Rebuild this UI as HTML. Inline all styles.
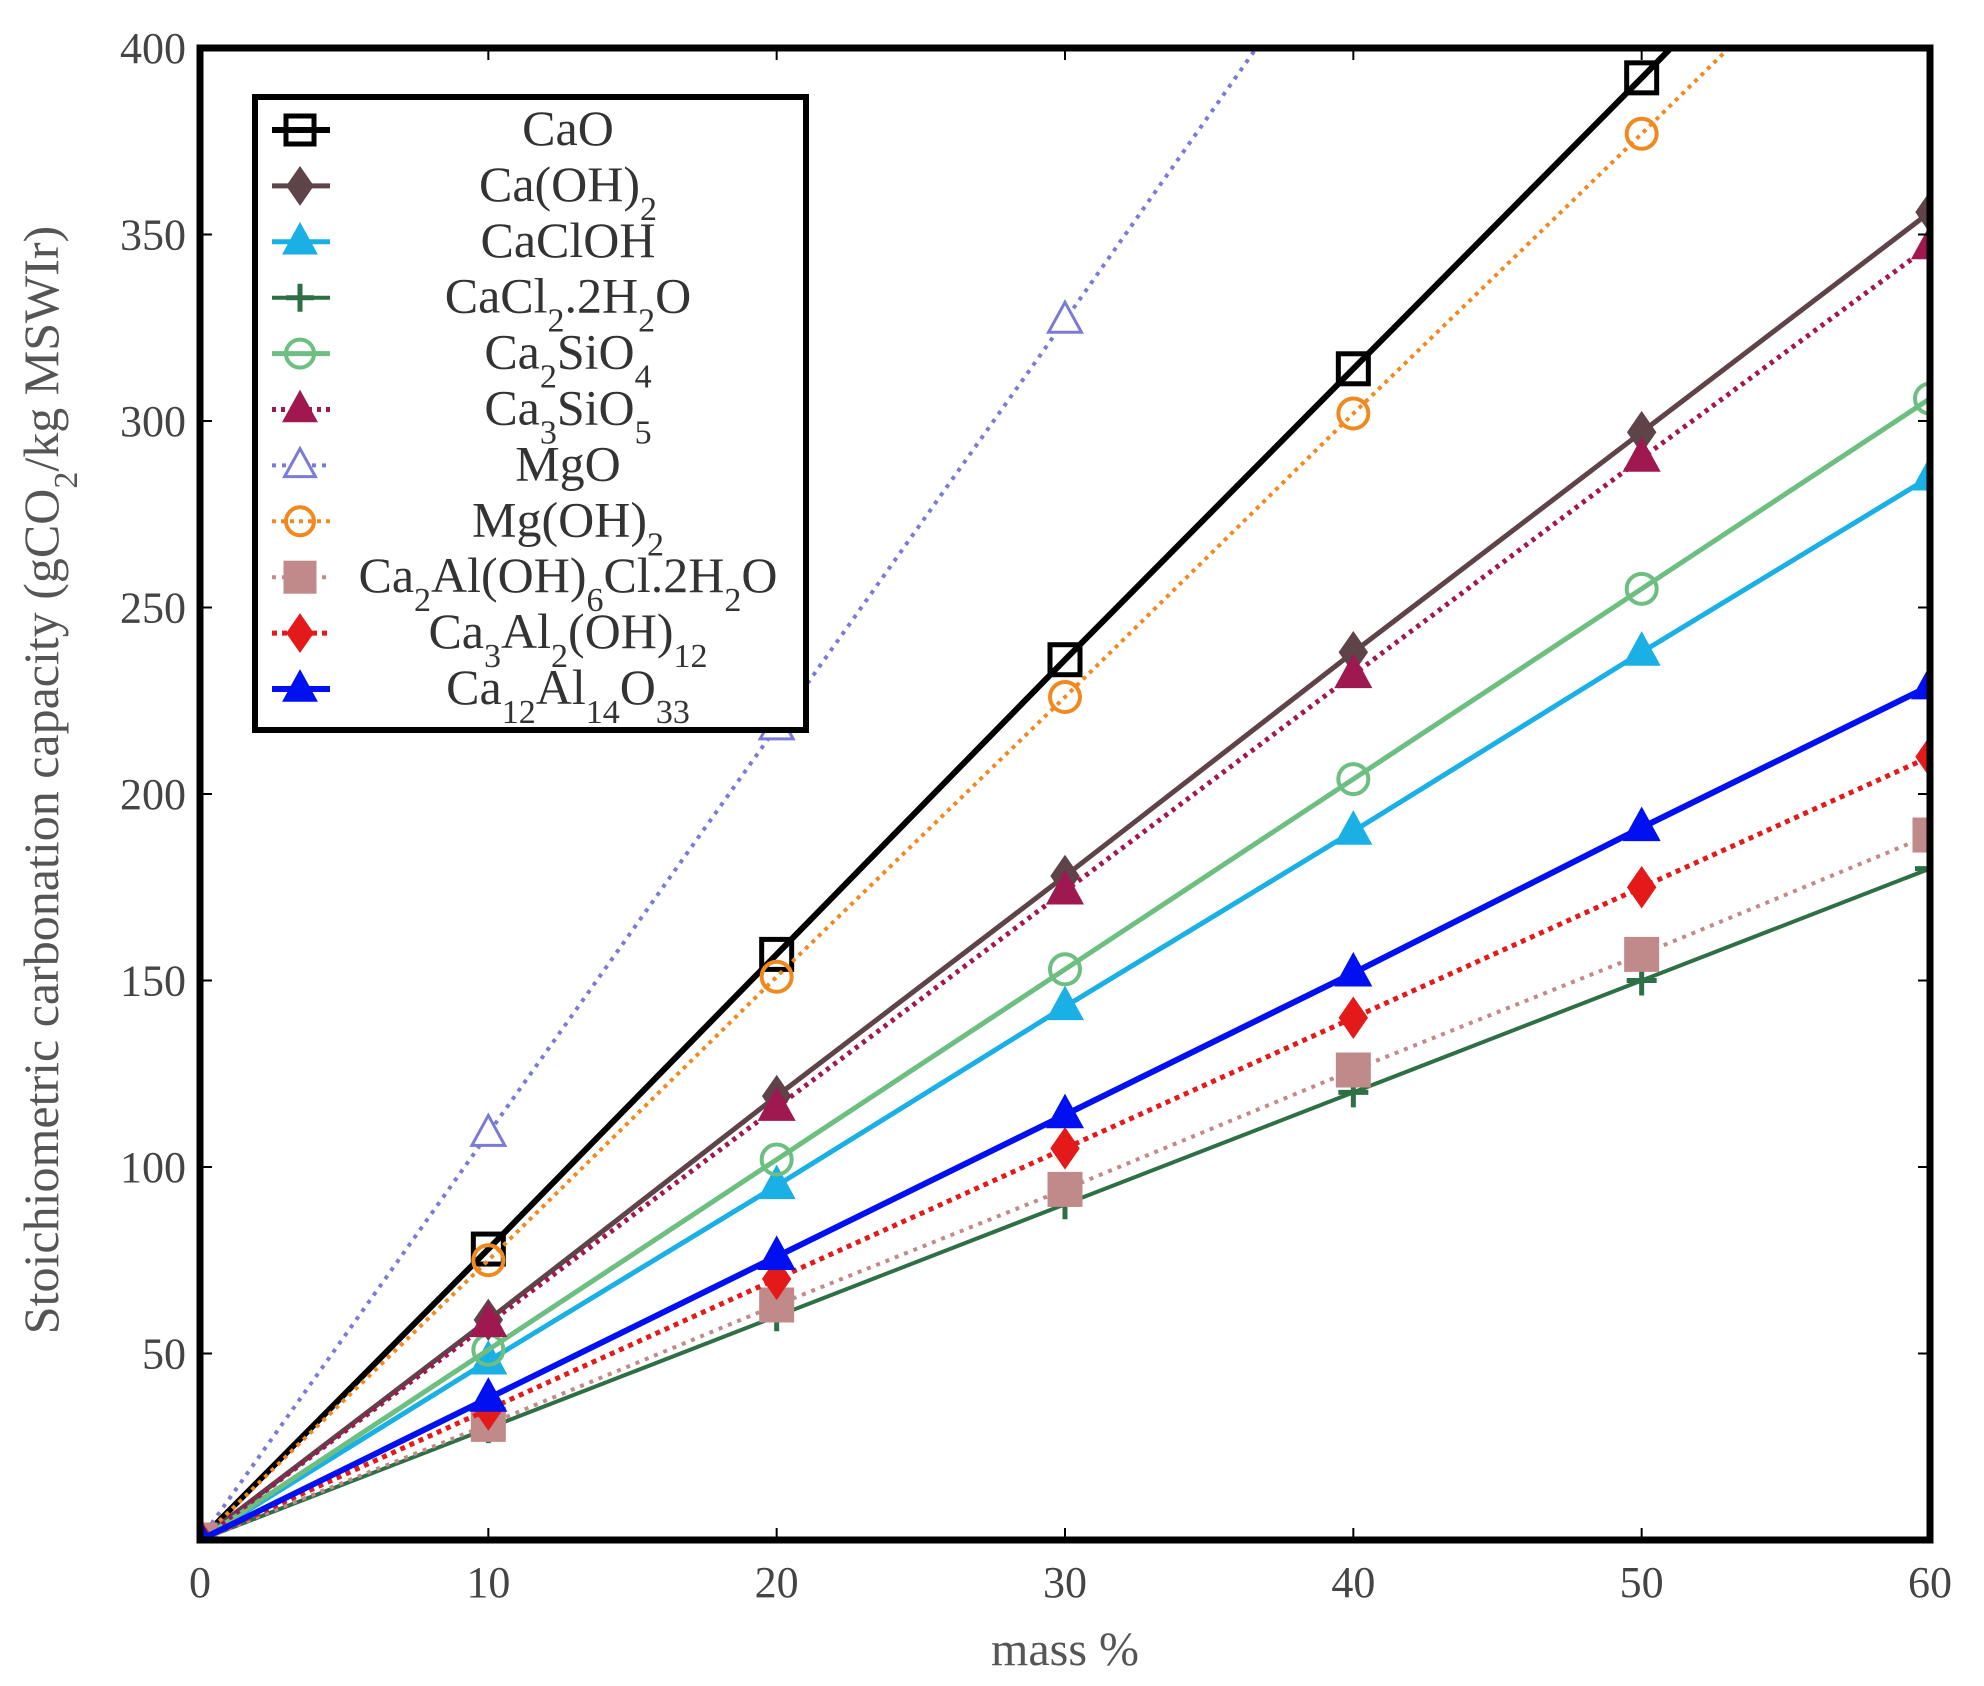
<!DOCTYPE html>
<html><head><meta charset="utf-8">
<style>
html,body{margin:0;padding:0;background:#fff;}
svg{display:block;}
text{font-family:"Liberation Serif",serif;}
</style></head>
<body>
<svg id="chart" width="1984" height="1686" viewBox="0 0 1984 1686" xmlns="http://www.w3.org/2000/svg">
<defs><clipPath id="plotclip"><rect x="200" y="48" width="1730" height="1492"/></clipPath></defs>
<rect x="0" y="0" width="1984" height="1686" fill="#fff"/>
<g id="series" clip-path="url(#plotclip)"></g>
<g id="axes"></g>
<g id="legend"></g>
</svg>
<script>
const xValues = [0, 10, 20, 30, 40, 50, 60];
const xTicks = [0, 10, 20, 30, 40, 50, 60];
const yTicks = [50, 100, 150, 200, 250, 300, 350, 400];
const seriesNames = ["CaO","Ca(OH)2","CaClOH","CaCl2.2H2O","Ca2SiO4","Ca3SiO5","MgO","Mg(OH)2","Ca2Al(OH)6Cl.2H2O","Ca3Al2(OH)12","Ca12Al14O33"];
const valsCaO = [0, 78, 157, 236, 314, 392, 471];
const valsCaOH2 = [0, 59, 119, 178, 238, 297, 356];
const valsCaClOH = [0, 48, 95, 143, 190, 238, 285];
const valsCaCl2 = [0, 30, 60, 90, 120, 150, 180];
const valsCa2SiO4 = [0, 51, 102, 153, 204, 255, 306];
const valsCa3SiO5 = [0, 58, 116, 174, 232, 290, 347];
const valsMgO = [0, 109, 218, 327, 437, 546, 655];
const valsMgOH2 = [0, 75, 151, 226, 302, 377, 453];
const valsCa2Al = [0, 31, 63, 94, 126, 157, 189];
const valsCa3Al2 = [0, 35, 70, 105, 140, 175, 210];
const valsCa12Al = [0, 38, 76, 114, 152, 191, 229];

const X0=200, X1=1930, Y0=1540, Y1=48;
function xs(v){return X0+(v-0)/(60-0)*(X1-X0);}
function ys(v){return Y0-(v-0)/(400-0)*(Y0-Y1);}
const NS="http://www.w3.org/2000/svg";
function mk(tag, attrs, parent){const e=document.createElementNS(NS,tag);for(const k in attrs)e.setAttribute(k,attrs[k]);parent.appendChild(e);return e;}

const styles=[
 {v:valsCaO,c:"#000",w:6,d:"",m:"square",f:false,slug:"cao"},
 {v:valsCaOH2,c:"#5e4348",w:5,d:"",m:"diamond",f:true,slug:"caoh2"},
 {v:valsCaClOH,c:"#1ab0e6",w:5,d:"",m:"triangle",f:true,slug:"caclOH"},
 {v:valsCaCl2,c:"#2f6f45",w:4,d:"",m:"plus",f:false,slug:"cacl2"},
 {v:valsCa2SiO4,c:"#6cbf80",w:5,d:"",m:"circle",f:false,slug:"ca2sio4"},
 {v:valsCa3SiO5,c:"#a01850",w:5,d:"4,5",m:"triangle",f:true,slug:"ca3sio5"},
 {v:valsMgO,c:"#7b7bd6",w:4,d:"4,6",m:"triangle",f:false,slug:"mgo"},
 {v:valsMgOH2,c:"#f08a20",w:4,d:"4,5",m:"circle",f:false,slug:"mgoh2"},
 {v:valsCa2Al,c:"#c08a8a",w:4,d:"4,6",m:"square",f:true,slug:"ca2al"},
 {v:valsCa3Al2,c:"#e41a1a",w:5,d:"5,5",m:"diamond",f:true,slug:"ca3al2"},
 {v:valsCa12Al,c:"#0010f0",w:6,d:"",m:"triangle",f:true,slug:"ca12al14o33"}
];
function marker(g,type,cx,cy,c,filled,s){
 let e;
 const fill=filled?c:"none";
 if(type==="square") e=mk("rect",{x:cx-s,y:cy-s,width:2*s,height:2*s,fill:fill,stroke:c,"stroke-width":5},g);
 else if(type==="diamond") e=mk("polygon",{points:`${cx},${cy-s*1.3} ${cx+s*0.9},${cy} ${cx},${cy+s*1.3} ${cx-s*0.9},${cy}`,fill:fill,stroke:c,"stroke-width":2},g);
 else if(type==="triangle") e=mk("polygon",{points:`${cx},${cy-s*1.2} ${cx+s*1.1},${cy+s*0.8} ${cx-s*1.1},${cy+s*0.8}`,fill:filled?c:"#fff",stroke:c,"stroke-width":3},g);
 else if(type==="circle") e=mk("circle",{cx:cx,cy:cy,r:s,fill:"none",stroke:c,"stroke-width":4},g);
 else if(type==="plus") e=mk("path",{d:`M${cx-s},${cy}H${cx+s}M${cx},${cy-s}V${cy+s}`,stroke:c,"stroke-width":5,fill:"none"},g);
 return e;
}
const sg=document.getElementById("series");
styles.forEach((st,i)=>{
 const g=mk("g",{},sg);
 
 
 const pts=xValues.map((x,j)=>xs(x)+","+ys(st.v[j])).join(" ");
 const pl=mk("polyline",{points:pts,fill:"none",stroke:st.c,"stroke-width":st.w,"stroke-dasharray":st.d},g);
 
 
 xValues.forEach((x,j)=>{
  const m=marker(g,st.m,xs(x),ys(st.v[j]),st.c,st.f,15);
  
  
 });
});
const ax=document.getElementById("axes");
const frame=mk("rect",{x:X0,y:Y1,width:X1-X0,height:Y0-Y1,fill:"none",stroke:"#000","stroke-width":7},ax);


xTicks.forEach(t=>{
 mk("line",{x1:xs(t),x2:xs(t),y1:Y0,y2:Y0-12,stroke:"#000","stroke-width":2},ax);
 mk("line",{x1:xs(t),x2:xs(t),y1:Y1,y2:Y1+12,stroke:"#000","stroke-width":2},ax);
 const tx=mk("text",{x:xs(t),y:1597,"text-anchor":"middle","font-size":44,fill:"#444"},ax);
 tx.textContent=t;
 
 
});
yTicks.forEach(t=>{
 mk("line",{x1:X0,x2:X0+12,y1:ys(t),y2:ys(t),stroke:"#000","stroke-width":2},ax);
 mk("line",{x1:X1,x2:X1-12,y1:ys(t),y2:ys(t),stroke:"#000","stroke-width":2},ax);
 const tx=mk("text",{x:186,y:ys(t)+15,"text-anchor":"end","font-size":44,fill:"#444"},ax);
 tx.textContent=t;
 
 
});
const xt=mk("text",{x:1065,y:1665,"text-anchor":"middle","font-size":48,fill:"#555"},ax);
xt.textContent="mass %";


const yt=mk("text",{x:0,y:0,"text-anchor":"middle","font-size":50,fill:"#555",transform:"translate(58,780) rotate(-90)"},ax);
yt.innerHTML='Stoichiometric carbonation capacity (gCO<tspan baseline-shift="sub" font-size="34">2</tspan>/kg MSWIr)';



// legend
const lg=document.getElementById("legend");


mk("rect",{x:255,y:97,width:551,height:633,fill:"#fff",stroke:"#000","stroke-width":6},lg);
const S='<tspan baseline-shift="sub" font-size="34">';
const labels=[
 'CaO','Ca(OH)'+S+'2</tspan>','CaClOH',
 'CaCl'+S+'2</tspan>.2H'+S+'2</tspan>O',
 'Ca'+S+'2</tspan>SiO'+S+'4</tspan>',
 'Ca'+S+'3</tspan>SiO'+S+'5</tspan>',
 'MgO','Mg(OH)'+S+'2</tspan>',
 'Ca'+S+'2</tspan>Al(OH)'+S+'6</tspan>Cl.2H'+S+'2</tspan>O',
 'Ca'+S+'3</tspan>Al'+S+'2</tspan>(OH)'+S+'12</tspan>',
 'Ca'+S+'12</tspan>Al'+S+'14</tspan>O'+S+'33</tspan>'
];
styles.forEach((st,i)=>{
 const cy=130+i*55.9;
 const e=mk("g",{},lg);
 
 
 mk("line",{x1:272,x2:330,y1:cy,y2:cy,stroke:st.c,"stroke-width":st.w,"stroke-dasharray":st.d},e);
 marker(e,st.m,300,cy,st.c,st.f,14);
 const t=mk("text",{x:568,y:cy+15,"text-anchor":"middle","font-size":50,fill:"#333"},e);
 t.innerHTML=labels[i];
});
</script>
</body></html>
